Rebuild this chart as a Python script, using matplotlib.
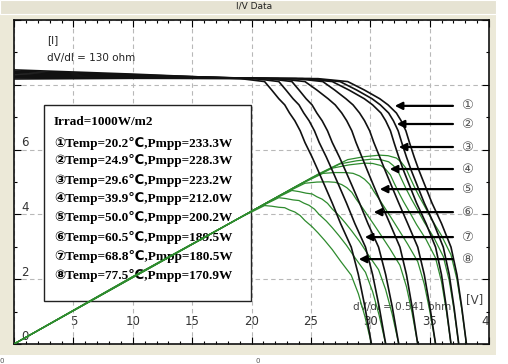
import matplotlib
matplotlib.use('Agg')
import matplotlib.pyplot as plt
from matplotlib.patches import Rectangle

# --- data ---
temps = [20.2, 24.9, 29.6, 39.9, 50.0, 60.5, 68.8, 77.5]
pmpp = [233.3, 228.3, 223.2, 212.0, 200.2, 189.5, 180.5, 170.9]
marks = ['①', '②', '③', '④', '⑤', '⑥', '⑦', '⑧']

# flat part of each I-V curve: current at V=0 and V=10
i_at_0 = [8.18, 8.22, 8.26, 8.30, 8.34, 8.38, 8.42, 8.46]
i_at_10 = [8.20, 8.21, 8.23, 8.25, 8.27, 8.29, 8.31, 8.33]

# current levels and the voltage where each curve crosses them (knee -> Voc)
knee_i = [8.19, 8.10, 7.84, 7.57, 7.38, 7.13, 6.89, 6.58, 6.22, 5.77,
          5.36, 4.90, 4.35, 3.72, 2.99, 2.14, 1.15, 0.0]
knee_v = [
    [25.6, 28.1, 29.5, 30.8, 31.5, 32.2, 32.6, 33.0, 33.3, 33.7, 34.1, 34.6, 35.2, 36.0, 36.8, 37.3, 37.7, 38.1],
    [24.95, 27.45, 28.85, 30.15, 30.85, 31.55, 31.95, 32.35, 32.65, 33.05, 33.45, 33.95, 34.55, 35.35, 36.15, 36.65, 37.05, 37.45],
    [24.3, 26.8, 28.2, 29.5, 30.2, 30.9, 31.3, 31.7, 32.0, 32.4, 32.8, 33.3, 33.9, 34.7, 35.5, 36.0, 36.4, 36.8],
    [23.75, 26.0, 27.0, 27.95, 28.55, 29.1, 29.52, 29.95, 30.3, 30.8, 31.25, 31.77, 32.4, 33.15, 34.0, 34.55, 35.02, 35.5],
    [22.25, 24.5, 25.5, 26.45, 27.05, 27.6, 28.02, 28.45, 28.8, 29.3, 29.75, 30.27, 30.9, 31.65, 32.5, 33.05, 33.52, 34.0],
    [21.4, 23.4, 24.0, 24.6, 25.1, 25.5, 25.95, 26.4, 26.8, 27.4, 27.9, 28.45, 29.1, 29.8, 30.7, 31.3, 31.85, 32.4],
    [20.3, 22.3, 22.9, 23.5, 24.0, 24.4, 24.85, 25.3, 25.7, 26.3, 26.8, 27.35, 28.0, 28.7, 29.6, 30.2, 30.75, 31.3],
    [19.1, 21.1, 21.7, 22.3, 22.8, 23.2, 23.65, 24.1, 24.5, 25.1, 25.6, 26.15, 26.8, 27.5, 28.4, 29.0, 29.55, 30.1],
]

# where the arrows point (V, I) for each curve
arrow_v = [31.83, 32.0, 32.17, 31.41, 30.57, 30.06, 29.31, 28.8]
arrow_i = [7.35, 6.79, 6.08, 5.40, 4.78, 4.07, 3.30, 2.62]

p_scale = 40.0  # W per current-axis unit for the green P-V curves

fig = plt.figure(figsize=(5.08, 3.64), dpi=100, facecolor='white')

# window panel + title strip (behind the axes)
fig.patches.append(Rectangle((0, 9/364), 496/508, 1 - 9/364, transform=fig.transFigure,
                             facecolor='#ECE9D8', edgecolor='none', zorder=-10))
fig.patches.append(Rectangle((0, 1 - 14/364), 496/508, 14/364, transform=fig.transFigure,
                             facecolor='#E6E3D3', edgecolor='#FFFFFF', lw=0.8, zorder=-9))
fig.text(254/508, 1 - 6/364, 'I/V Data', ha='center', va='center', fontsize=6.5, color='#222')
fig.text(2/508, 0, '0', ha='center', va='bottom', fontsize=5, color='#555')
fig.text(258/508, 0, '0', ha='center', va='bottom', fontsize=5, color='#555')

ax = fig.add_axes([14/508, 20/364, 475/508, 324/364])
ax.set_facecolor('white')
ax.set_xlim(0, 40)
ax.set_ylim(0, 10)

ax.set_xticks(range(0, 41, 5))
ax.set_xticks(range(0, 41, 1), minor=True)
ax.set_yticks(range(0, 11, 2))
ax.set_yticks(range(0, 11, 1), minor=True)
ax.tick_params(which='both', direction='in', top=True, right=True,
               labelbottom=False, labelleft=False, color='black', width=0.8)
ax.tick_params(which='major', length=5)
ax.tick_params(which='minor', length=2.5)
ax.grid(True, which='major', linestyle=(0, (4, 3)), color='#b8b8b8', lw=0.8, zorder=0)
for s in ax.spines.values():
    s.set_linewidth(1.2)
    s.set_color('#111')

# tick labels drawn inside the plot (the "8" is hidden under the curves)
for x in range(5, 41, 5):
    ax.text(x, 0.68, str(x), ha='center', va='center', fontsize=8.5, color='#333',
            clip_on=True, zorder=1)
for y in range(0, 7, 2):
    ax.text(0.93, y + 0.22, str(y), ha='center', va='center', fontsize=8.5, color='#333', zorder=1)

# curves
for k in range(len(temps)):
    v = [0.0, 10.0] + knee_v[k]
    i = [i_at_0[k], i_at_10[k]] + knee_i
    p = [vv * ii / p_scale for vv, ii in zip(v, i)]
    ax.plot(v, p, color='#2e8b2e', lw=0.9, zorder=4)
    ax.plot(v, i, color='#111111', lw=1.2, zorder=5)

# legend box
ax.add_patch(Rectangle((2.53, 1.33), 17.43, 6.05, facecolor='white', edgecolor='#222',
                       lw=1.0, zorder=3))
serif = ['Liberation Serif', 'DejaVu Sans']
ax.text(3.37, 6.85, 'Irrad=1000W/m2', family=serif, fontweight='bold', fontsize=9.5,
        va='center', ha='left', zorder=3.5)
row_y = [6.20, 5.65, 5.06, 4.48, 3.89, 3.30, 2.69, 2.10]
for k in range(len(temps)):
    ax.text(3.37, row_y[k], '%sTemp=%.1f℃,Pmpp=%.1fW' % (marks[k], temps[k], pmpp[k]),
            family=serif, fontweight='bold', fontsize=9.5, va='center', ha='left', zorder=3.5)

# arrows and circled labels on the right
for k in range(len(temps)):
    ax.annotate('', xy=(arrow_v[k], arrow_i[k]), xytext=(37.2, arrow_i[k]),
                arrowprops=dict(arrowstyle='-|>', lw=1.6, color='black', mutation_scale=11),
                zorder=6)
    ax.text(38.15, arrow_i[k], marks[k], ha='center', va='center', fontsize=9.5,
            color='#555', zorder=6)

# annotations
ax.text(2.78, 9.38, '[I]', fontsize=7.5, va='center', ha='left', color='#222')
ax.text(2.78, 8.83, 'dV/dI = 130 ohm', fontsize=7.5, va='center', ha='left', color='#222')
ax.text(28.55, 1.14, 'dV/dI = 0.541 ohm', fontsize=7.5, va='center', ha='left',
        color='#444', zorder=2)
ax.text(38.8, 1.36, '[V]', fontsize=8.5, va='center', ha='center', color='#444', zorder=2)

fig.savefig('out.png', dpi=100, facecolor=fig.get_facecolor())
